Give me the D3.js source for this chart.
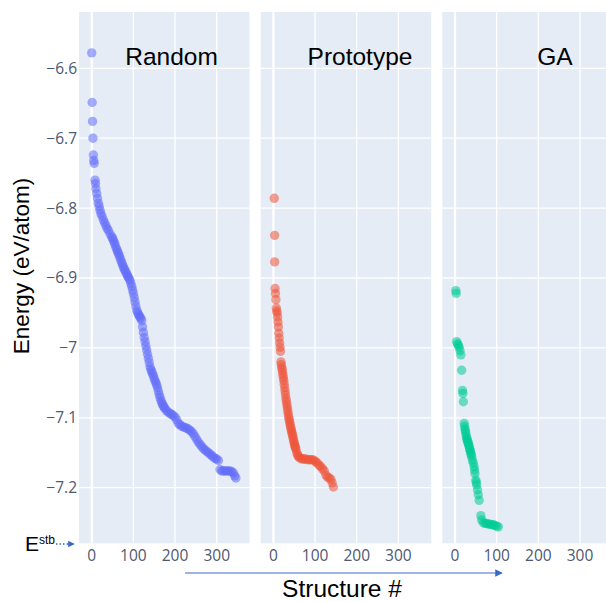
<!DOCTYPE html>
<html>
<head>
<meta charset="utf-8">
<script src="https://cdn.jsdelivr.net/npm/d3@7"></script>
<style>
  body { margin: 0; background: #fff; }
  svg { display: block; font-family: "Liberation Sans", Arial, sans-serif; }
</style>
</head>
<body>
<div class="canvas"></div>
<script>
// panel names + marker colours
const methods = ['Random', 'Prototype', 'GA'];
const colors = ['#636efa', '#ef553b', '#00cc96'];

// [structure #, energy]
const randomPts = [
  [0, -6.578], [1, -6.649], [2, -6.676], [3, -6.7], [4, -6.724], [5, -6.732], [6, -6.736],
  [8, -6.76], [9, -6.765], [10, -6.772], [12, -6.779], [14, -6.786], [16, -6.793], [18, -6.798],
  [20, -6.803], [22, -6.808], [25, -6.812], [28, -6.817], [31, -6.821], [34, -6.825], [37, -6.829],
  [40, -6.832], [44, -6.837], [48, -6.841], [50, -6.843], [52, -6.846], [54, -6.849], [56, -6.852],
  [58, -6.856], [60, -6.859], [62, -6.862], [64, -6.865], [66, -6.868], [68, -6.871], [70, -6.875],
  [72, -6.878], [74, -6.881], [76, -6.884], [78, -6.887], [80, -6.889], [82, -6.892], [84, -6.894],
  [86, -6.897], [88, -6.899], [90, -6.901], [92, -6.904], [94, -6.908], [96, -6.912], [98, -6.917],
  [100, -6.922], [102, -6.928], [104, -6.934], [106, -6.94], [108, -6.946], [110, -6.949],
  [112, -6.952], [114, -6.954], [116, -6.956], [118, -6.958], [120, -6.961], [122, -6.97],
  [124, -6.978], [126, -6.985], [128, -6.991], [130, -6.997], [132, -7.003], [134, -7.009],
  [136, -7.015], [138, -7.021], [140, -7.027], [142, -7.031], [144, -7.034], [146, -7.037],
  [148, -7.04], [150, -7.044], [152, -7.047], [154, -7.05], [156, -7.053], [158, -7.057],
  [160, -7.062], [162, -7.067], [164, -7.071], [166, -7.075], [168, -7.078], [170, -7.081],
  [172, -7.083], [174, -7.085], [176, -7.087], [180, -7.09], [184, -7.092], [188, -7.094],
  [192, -7.095], [196, -7.097], [200, -7.099], [204, -7.103], [208, -7.108], [212, -7.11],
  [216, -7.112], [220, -7.113], [224, -7.114], [228, -7.115], [232, -7.116], [236, -7.118],
  [240, -7.12], [244, -7.123], [248, -7.127], [252, -7.131], [256, -7.135], [260, -7.138],
  [264, -7.141], [268, -7.144], [272, -7.146], [276, -7.148], [280, -7.15], [284, -7.152],
  [288, -7.154], [292, -7.156], [296, -7.158], [300, -7.159], [304, -7.161], [308, -7.174],
  [312, -7.176], [316, -7.176], [320, -7.176], [324, -7.176], [328, -7.176], [332, -7.176],
  [336, -7.177], [340, -7.179], [343, -7.183], [346, -7.186]
];

const prototypePts = [
  [2, -6.786], [3, -6.839], [3, -6.877], [4, -6.915], [5, -6.922], [6, -6.931], [7, -6.943],
  [8, -6.947], [9, -6.95], [10, -6.956], [11, -6.963], [12, -6.97], [13, -6.979], [14, -6.986],
  [15, -6.993], [16, -6.999], [17, -7.005], [18, -7.02], [19, -7.024], [20, -7.028], [21, -7.031],
  [22, -7.035], [23, -7.039], [24, -7.043], [25, -7.047], [26, -7.052], [27, -7.057], [28, -7.062],
  [29, -7.067], [30, -7.072], [31, -7.076], [32, -7.08], [33, -7.084], [34, -7.088], [35, -7.092],
  [36, -7.096], [37, -7.1], [38, -7.103], [39, -7.106], [40, -7.109], [41, -7.112], [42, -7.115],
  [43, -7.118], [44, -7.12], [45, -7.123], [46, -7.125], [47, -7.128], [48, -7.131], [49, -7.134],
  [50, -7.136], [51, -7.139], [52, -7.141], [53, -7.143], [54, -7.145], [56, -7.15], [58, -7.153],
  [60, -7.155], [62, -7.157], [66, -7.158], [70, -7.159], [74, -7.159], [78, -7.159], [82, -7.16],
  [86, -7.16], [90, -7.16], [94, -7.16], [98, -7.161], [102, -7.163], [106, -7.165], [110, -7.168],
  [114, -7.17], [118, -7.173], [122, -7.176], [126, -7.182], [130, -7.185], [134, -7.186],
  [138, -7.188], [141, -7.193], [144, -7.199]
];

const gaPts = [
  [2, -6.918], [3, -6.922], [4, -6.991], [6, -6.994], [8, -6.996], [10, -6.999], [12, -7.004],
  [14, -7.01], [16, -7.032], [18, -7.061], [19, -7.065], [20, -7.077], [22, -7.108], [23, -7.112],
  [24, -7.116], [25, -7.119], [26, -7.122], [27, -7.126], [28, -7.129], [29, -7.131], [30, -7.133],
  [31, -7.135], [32, -7.137], [33, -7.139], [34, -7.141], [35, -7.144], [36, -7.146], [37, -7.148],
  [38, -7.151], [39, -7.153], [40, -7.156], [42, -7.161], [44, -7.165], [46, -7.17], [47, -7.175],
  [48, -7.18], [50, -7.189], [51, -7.192], [52, -7.196], [54, -7.203], [56, -7.21], [58, -7.218],
  [62, -7.24], [64, -7.246], [68, -7.25], [72, -7.251], [76, -7.251], [80, -7.252], [84, -7.252],
  [88, -7.253], [92, -7.253], [96, -7.254], [100, -7.255], [104, -7.256]
];

const series = [randomPts, prototypePts, gaPts];
const xTicks = [0, 100, 200, 300];
const yTicks = [-6.6, -6.7, -6.8, -6.9, -7, -7.1, -7.2];

// layout
const W = 606, H = 602;
const panel = { top: 12, width: 170.5, height: 531.3 };
const panelLefts = [79, 260.7, 442.3];
const titleX = [171.5, 360, 555];
const tickFont = '"Open Sans", "Liberation Sans", sans-serif';

const svg = d3.select('.canvas').append('svg')
  .attr('width', W)
  .attr('height', H);

const x = d3.scaleLinear().domain([-30.5, 378.7]).range([0, panel.width]);
const y = d3.scaleLinear().domain([-7.2795, -6.5195]).range([panel.height, 0]);
const fmt = d3.format('~g');

methods.forEach((name, i) => {
  const g = svg.append('g')
    .attr('transform', `translate(${panelLefts[i]}, ${panel.top})`);

  g.append('rect')
    .attr('width', panel.width)
    .attr('height', panel.height)
    .attr('fill', '#e5ecf6');

  // grid
  g.selectAll('.hgrid').data(yTicks).enter().append('line')
    .attr('x1', 0).attr('x2', panel.width)
    .attr('y1', d => y(d)).attr('y2', d => y(d))
    .attr('stroke', '#fff').attr('stroke-width', 1.3);

  g.selectAll('.vgrid').data(xTicks).enter().append('line')
    .attr('x1', d => x(d)).attr('x2', d => x(d))
    .attr('y1', 0).attr('y2', panel.height)
    .attr('stroke', '#fff')
    .attr('stroke-width', d => d === 0 ? 2.2 : 1.3);

  // x tick labels
  g.selectAll('.xt').data(xTicks).enter().append('text')
    .attr('x', d => x(d))
    .attr('y', panel.height + 18)
    .attr('text-anchor', 'middle')
    .attr('font-family', tickFont)
    .attr('font-size', 15.5)
    .attr('fill', '#4e5870')
    .text(d => d);

  // points
  g.selectAll('circle').data(series[i]).enter().append('circle')
    .attr('cx', d => x(d[0]))
    .attr('cy', d => y(d[1]))
    .attr('r', 4.7)
    .attr('fill', colors[i])
    .attr('fill-opacity', 0.55);

  // panel title
  svg.append('text')
    .attr('x', titleX[i])
    .attr('y', panel.top + 53)
    .attr('text-anchor', 'middle')
    .attr('font-size', 24.5)
    .attr('fill', '#000')
    .text(name);
});

// y tick labels (left panel only)
svg.selectAll('.yt').data(yTicks).enter().append('text')
  .attr('x', 77)
  .attr('y', d => panel.top + y(d) + 5.5)
  .attr('text-anchor', 'end')
  .attr('font-family', tickFont)
  .attr('font-size', 15.5)
  .attr('fill', '#4e5870')
  .text(d => fmt(d));

// y axis title
svg.append('text')
  .attr('transform', `translate(29, 266) rotate(-90)`)
  .attr('text-anchor', 'middle')
  .attr('font-size', 22.5)
  .attr('fill', '#000')
  .text('Energy (eV/atom)');

// arrows
const defs = svg.append('defs');
defs.append('marker')
  .attr('id', 'head')
  .attr('viewBox', '0 0 10 10')
  .attr('refX', 9).attr('refY', 5)
  .attr('markerWidth', 5).attr('markerHeight', 5)
  .attr('orient', 'auto')
  .append('path')
  .attr('d', 'M0,0L10,5L0,10Z')
  .attr('fill', '#3a68c0');

svg.append('line')
  .attr('x1', 185).attr('x2', 502)
  .attr('y1', 573).attr('y2', 573)
  .attr('stroke', '#7d9bd9').attr('stroke-width', 1.5)
  .attr('marker-end', 'url(#head)');

svg.append('text')
  .attr('x', 342).attr('y', 597)
  .attr('text-anchor', 'middle')
  .attr('font-size', 24.5)
  .attr('fill', '#000')
  .text('Structure #');

// E^stb marker
const est = svg.append('text')
  .attr('x', 25).attr('y', 551)
  .attr('font-size', 21)
  .attr('fill', '#000');
est.append('tspan').text('E');
est.append('tspan').attr('font-size', 12).attr('dy', -7).text('stb');

svg.append('line')
  .attr('x1', 56).attr('x2', 74)
  .attr('y1', 544).attr('y2', 544)
  .attr('stroke', '#3a68c0').attr('stroke-width', 1.3)
  .attr('stroke-dasharray', '1.5,2')
  .attr('marker-end', 'url(#head)');
</script>
</body>
</html>
